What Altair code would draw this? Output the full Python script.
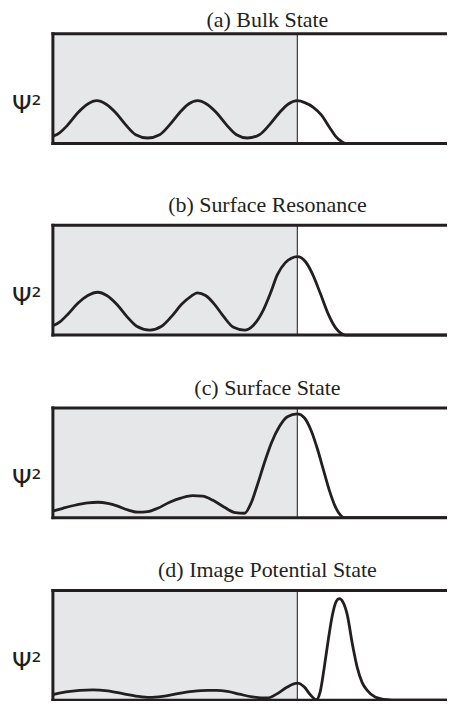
import altair as alt
import pandas as pd

INK = "#231f20"
BULK_FILL = "#e6e7e8"

titles = [
    "(a) Bulk State",
    "(b) Surface Resonance",
    "(c) Surface State",
    "(d) Image Potential State",
]

# depth coordinate (surface at 0, bulk at negative z), arbitrary units
x_domain = [-2.45, 1.85]
y_domain = [0.0, 1.0]
bulk_region = [-2.45, 0.0]
surface_z = [0.0]

a_z = [-2.45, -2.38, -2.30, -2.20, -2.10, -2.01, -1.92, -1.82, -1.72, -1.62, -1.50,
       -1.38, -1.28, -1.18, -1.09, -1.00, -0.91, -0.81, -0.71, -0.61, -0.50,
       -0.38, -0.28, -0.18, -0.09, 0.00, 0.08, 0.16, 0.24, 0.32, 0.38, 0.44, 0.49, 1.85]
a_psi2 = [0.065, 0.10, 0.17, 0.28, 0.36, 0.39, 0.36, 0.28, 0.17, 0.08, 0.05,
          0.08, 0.17, 0.28, 0.36, 0.39, 0.36, 0.28, 0.17, 0.08, 0.05,
          0.08, 0.17, 0.28, 0.36, 0.39, 0.37, 0.33, 0.26, 0.15, 0.07, 0.02, 0.0, 0.0]

b_z = [-2.45, -2.38, -2.30, -2.20, -2.10, -2.00, -1.91, -1.81, -1.71, -1.61, -1.48,
       -1.36, -1.26, -1.16, -1.07, -1.00, -0.92, -0.83, -0.74, -0.64, -0.53,
       -0.44, -0.34, -0.27, -0.20, -0.12, -0.06, 0.00, 0.08, 0.15, 0.23, 0.31,
       0.38, 0.44, 0.48, 1.85]
b_psi2 = [0.085, 0.12, 0.19, 0.29, 0.36, 0.39, 0.36, 0.28, 0.17, 0.08, 0.045,
          0.08, 0.17, 0.28, 0.35, 0.385, 0.36, 0.28, 0.17, 0.07, 0.045,
          0.09, 0.23, 0.38, 0.55, 0.66, 0.70, 0.715, 0.67, 0.56, 0.38, 0.19,
          0.07, 0.015, 0.0, 0.0]

c_z = [-2.45, -2.35, -2.22, -2.10, -2.00, -1.90, -1.80, -1.70, -1.60, -1.50,
       -1.40, -1.28, -1.16, -1.05, -0.95, -0.85, -0.74, -0.62, -0.53,
       -0.46, -0.40, -0.33, -0.26, -0.18, -0.10, 0.00, 0.07, 0.14, 0.20,
       0.26, 0.32, 0.38, 0.43, 0.47, 1.85]
c_psi2 = [0.06, 0.085, 0.115, 0.135, 0.14, 0.13, 0.105, 0.07, 0.05, 0.055,
          0.085, 0.14, 0.18, 0.20, 0.195, 0.16, 0.10, 0.045, 0.04,
          0.14, 0.30, 0.50, 0.68, 0.83, 0.92, 0.945, 0.91, 0.79, 0.63,
          0.44, 0.25, 0.10, 0.025, 0.0, 0.0]

d_z = [-2.45, -2.32, -2.18, -2.05, -1.90, -1.75, -1.60, -1.48, -1.35, -1.20,
       -1.05, -0.90, -0.81, -0.70, -0.58, -0.45, -0.30, -0.20, -0.10, 0.00,
       0.07, 0.13, 0.19, 0.23, 0.27, 0.31, 0.35, 0.39, 0.42, 0.46, 0.50,
       0.55, 0.60, 0.65, 0.70, 0.78, 0.90, 1.00, 1.85]
d_psi2 = [0.05, 0.075, 0.09, 0.095, 0.085, 0.06, 0.035, 0.025, 0.035, 0.06,
          0.08, 0.09, 0.09, 0.08, 0.055, 0.03, 0.02, 0.06, 0.12, 0.155,
          0.12, 0.05, 0.005, 0.08, 0.30, 0.55, 0.77, 0.90, 0.925, 0.89, 0.78,
          0.52, 0.30, 0.16, 0.09, 0.03, 0.005, 0.0, 0.0]

series = [(a_z, a_psi2), (b_z, b_psi2), (c_z, c_psi2), (d_z, d_psi2)]
title_offsets = [0, 6, 6, 6]

xs = alt.Scale(domain=x_domain, nice=False, zero=False)
ys = alt.Scale(domain=y_domain, nice=False, zero=False)

yaxis = alt.Axis(
    title="Ψ²", labels=False, ticks=False, domain=False, grid=False,
    titleAngle=0, titleAlign="left", titleBaseline="middle",
    titleX=-41.5, titleY=71, titleFont="DejaVu Sans", titleFontSize=25,
    titleFontWeight="normal", titleColor=INK,
)


def panel(title, z, v, toff):
    df = pd.DataFrame({"z": z, "psi2": v})
    region = pd.DataFrame({"z0": [bulk_region[0]], "z1": [bulk_region[1]],
                           "lo": [y_domain[0]], "hi": [y_domain[1]]})
    bulk = alt.Chart(region).mark_rect(color=BULK_FILL).encode(
        x=alt.X("z0:Q", scale=xs, axis=None),
        x2="z1:Q",
        y=alt.Y("lo:Q", scale=ys, axis=yaxis),
        y2="hi:Q",
    )
    surf = alt.Chart(pd.DataFrame({"z": surface_z})).mark_rule(
        color="#3a3a3a", strokeWidth=1.2
    ).encode(x=alt.X("z:Q", scale=xs, axis=None))
    line = alt.Chart(df).mark_line(
        color=INK, strokeWidth=2.8, interpolate="monotone"
    ).encode(
        x=alt.X("z:Q", scale=xs, axis=None),
        y=alt.Y("psi2:Q", scale=ys, axis=yaxis),
    )
    # frame: left, top and bottom edges of the plot box
    hframe = pd.DataFrame({"x0": [x_domain[0]] * 2, "x1": [x_domain[1]] * 2,
                           "y": y_domain})
    vframe = pd.DataFrame({"x": [x_domain[0]], "y0": [y_domain[0]], "y1": [y_domain[1]]})
    htop = alt.Chart(hframe).mark_rule(color=INK, strokeWidth=3, strokeCap="square").encode(
        x=alt.X("x0:Q", scale=xs, axis=None), x2="x1:Q",
        y=alt.Y("y:Q", scale=ys, axis=yaxis),
    )
    vleft = alt.Chart(vframe).mark_rule(color=INK, strokeWidth=3, strokeCap="square").encode(
        x=alt.X("x:Q", scale=xs, axis=None),
        y=alt.Y("y0:Q", scale=ys, axis=yaxis), y2="y1:Q",
    )
    return alt.layer(bulk, surf, line, htop, vleft).properties(
        width=430, height=110,
        title=alt.TitleParams(
            text=title, font="Liberation Serif", fontSize=22,
            fontWeight="normal", color=INK, offset=toff,
        ),
    )


panels = [panel(t, z, v, o) for t, (z, v), o in zip(titles, series, title_offsets)]
rest = alt.vconcat(panels[1], panels[2], panels[3], spacing=35)
chart = alt.vconcat(panels[0], rest, spacing=44).properties(
    padding={"left": 3, "top": -1, "right": -41, "bottom": -6}
).configure_view(strokeWidth=0)

chart.save("out.html", embed_options={"renderer": "svg", "actions": False})
